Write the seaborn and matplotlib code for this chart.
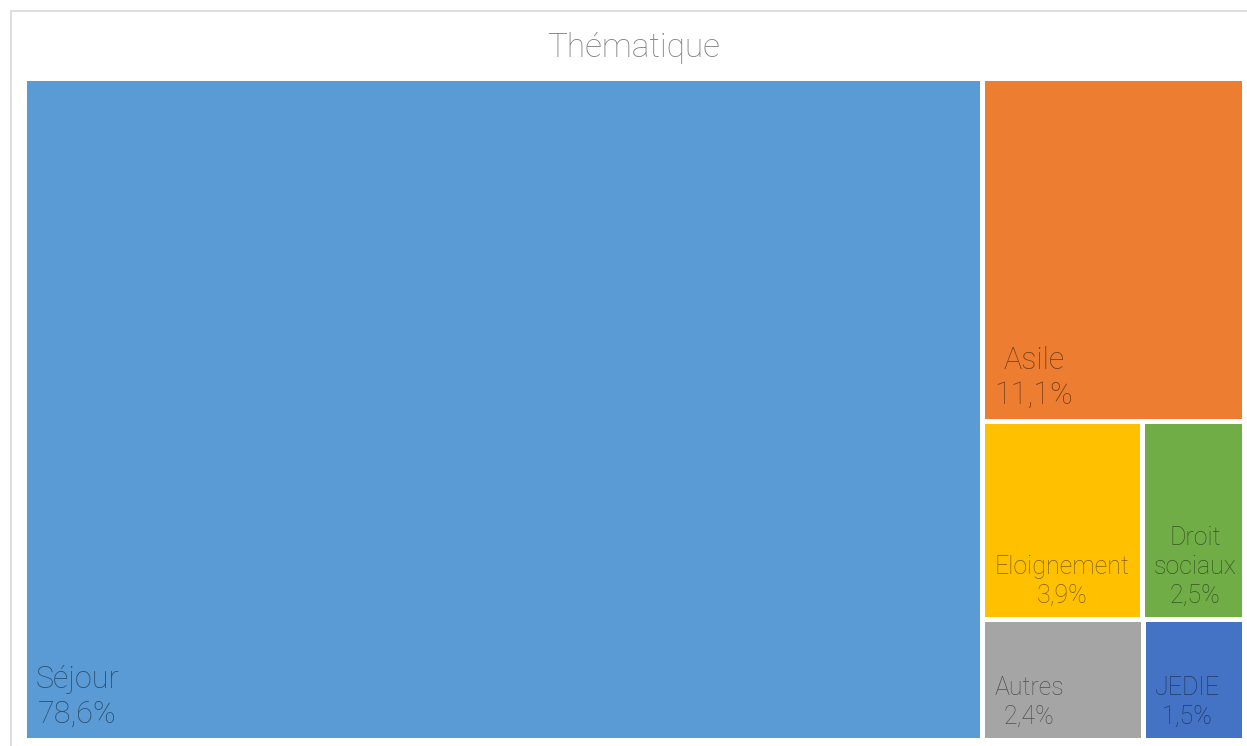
import seaborn as sns
import matplotlib.pyplot as plt
from matplotlib.patches import Rectangle

categories = ['Séjour', 'Asile', 'Eloignement', 'Droit sociaux', 'Autres', 'JEDIE']
shares = [78.6, 11.1, 3.9, 2.5, 2.4, 1.5]
colors = ['#5B9BD5', '#ED7D31', '#FFC000', '#70AD47', '#A5A5A5', '#4472C4']
title = 'Thématique'


# squarified treemap layout (Bruls et al.)
def layout_row(sizes, x, y, dx, dy):
    width = sum(sizes) / dy
    rects = []
    for s in sizes:
        rects.append((x, y, width, s / width))
        y += s / width
    return rects


def layout_col(sizes, x, y, dx, dy):
    height = sum(sizes) / dx
    rects = []
    for s in sizes:
        rects.append((x, y, s / height, height))
        x += s / height
    return rects


def layout(sizes, x, y, dx, dy):
    return layout_row(sizes, x, y, dx, dy) if dx >= dy else layout_col(sizes, x, y, dx, dy)


def leftover(sizes, x, y, dx, dy):
    covered = sum(sizes)
    if dx >= dy:
        w = covered / dy
        return x + w, y, dx - w, dy
    h = covered / dx
    return x, y + h, dx, dy - h


def worst(sizes, x, y, dx, dy):
    return max(max(w / h, h / w) for _, _, w, h in layout(sizes, x, y, dx, dy))


def squarify(sizes, x, y, dx, dy):
    if not sizes:
        return []
    if len(sizes) == 1:
        return layout(sizes, x, y, dx, dy)
    i = 1
    while i < len(sizes) and worst(sizes[:i], x, y, dx, dy) >= worst(sizes[:i + 1], x, y, dx, dy):
        i += 1
    cur, rest = sizes[:i], sizes[i:]
    return layout(cur, x, y, dx, dy) + squarify(rest, *leftover(cur, x, y, dx, dy))


sns.set_style('white')
plt.rcParams['font.family'] = ['Roboto', 'DejaVu Sans']

W, H = 1220.0, 662.0
total = sum(shares)
sizes = [v * W * H / total for v in shares]
rects = squarify(sizes, 0, 0, W, H)

fig = plt.figure(figsize=(12.47, 7.46), dpi=100)
fig.patches.append(Rectangle((11 / 1247, -0.1), 1.2, 1.1 - 11 / 746, transform=fig.transFigure,
                             fill=False, edgecolor='#d9d9d9', lw=1.2))
ax = fig.add_axes([23.5 / 1247, 6.5 / 746, W / 1247, H / 746])

for (x, y, w, h), name, val, col in zip(rects, categories, shares, colors):
    ax.add_patch(Rectangle((x, y), w, h, facecolor=col, edgecolor='white', lw=3.6))
    label = name.replace(' ', '\n') if w < 120 else name
    txt = f"{label}\n{val:.1f}%".replace('.', ',')
    fs = 22 if w > 200 else 18
    ax.text(x + 12, y + h - 11, txt, ha='left', va='bottom', multialignment='center',
            fontsize=fs, fontweight='light', color='black', alpha=0.5, linespacing=1.25)

ax.set_xlim(0, W)
ax.set_ylim(H, 0)
ax.axis('off')

fig.text(0.508, 1 - 48 / 746, title, ha='center', va='center', fontsize=24,
         fontweight='light', color='#808080')

fig.savefig('out.png', dpi=100)
